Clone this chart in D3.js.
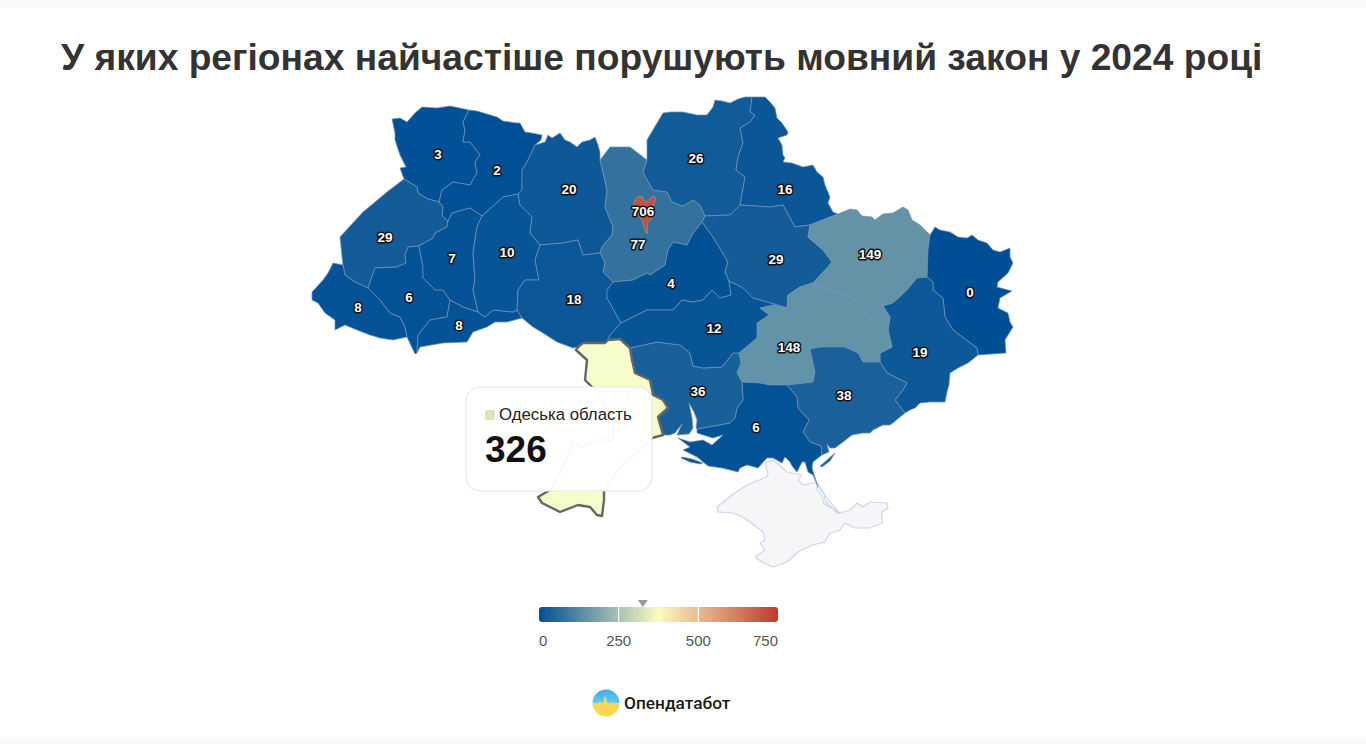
<!DOCTYPE html>
<html>
<head>
<meta charset="utf-8">
<script src="https://cdn.jsdelivr.net/npm/d3@7"></script>
<style>
  html, body { margin: 0; padding: 0; background: #f8f9fa; }
  svg { display: block; font-family: "Liberation Sans", Arial, sans-serif; }
</style>
</head>
<body>
<svg id="chart" width="1366" height="744"></svg>
<script>
const titleText = 'У яких регіонах найчастіше порушують мовний закон у 2024 році';

// region values and the spot each number sits on (map units)
const regionNames = ['Волинська', 'Рівненська', 'Львівська', 'Закарпатська', 'Івано-Франківська', 'Тернопільська', 'Чернівецька', 'Хмельницька', 'Житомирська', 'Київська', 'Вінницька', 'Черкаська', 'Чернігівська', 'Сумська', 'Полтавська', 'Харківська', 'Луганська', 'Донецька', 'Дніпропетровська', 'Запорізька', 'Херсонська', 'Миколаївська', 'Кіровоградська', 'Одеська'];
const regionValues = [3, 2, 29, 8, 6, 7, 8, 10, 20, 77, 18, 4, 26, 16, 29, 149, 0, 19, 148, 38, 6, 36, 12, 326];
const labelSpots = [[438, 155], [497, 171], [385, 238], [358, 308], [409, 298], [452, 259], [459, 326], [507, 253], [569, 190], [638, 245], [574, 300], [671, 284], [696, 159], [785, 190], [776, 260], [870, 255], [970, 293], [920, 353], [789, 348], [844, 396], [756, 428], [698, 392], [714, 329], [625, 397]];

const kyivCityValue = 706;
const kyivCitySpot = [643, 212];

// boundary pieces, shared between neighbours
const arcs = {
  volOut: [[404,179],[400,168],[406,167],[400,155],[395,140],[395,133],[392,119],[400,118],[407,122],[415,113],[422,107],[437,108],[450,106],[469,110]],
  volRv: [[469,110],[463,122],[465,130],[463,142],[470,142],[480,155],[475,162],[477,173],[470,185],[453,182],[442,190],[439,202]],
  lvVol: [[404,179],[417,187],[418,193],[428,199],[439,202]],
  rvOut: [[469,110],[477,111],[487,114],[497,117],[503,121],[517,123],[520,123],[525,132],[532,133],[542,135],[541,140],[535,145]],
  rvZh: [[535,145],[527,162],[522,170],[522,190],[518,194]],
  rvKh: [[518,194],[503,197],[492,207],[482,216]],
  rvTe: [[482,216],[470,208],[452,213],[448,221]],
  rvLv: [[439,202],[443,207],[442,216],[448,221]],
  lvTe: [[448,221],[447,227],[435,233],[433,238],[419,246]],
  lvIf: [[419,246],[408,247],[405,255],[406,263],[397,267],[375,268],[368,288]],
  lvZk: [[368,288],[355,282],[345,275],[343,265]],
  lvOut: [[404,179],[387,192],[363,212],[340,237],[342,257],[343,265]],
  zkOut: [[343,265],[333,263],[328,273],[323,280],[312,292],[312,300],[318,303],[325,313],[335,320],[335,330],[345,325],[357,330],[370,335],[380,338],[393,340],[407,337]],
  zkIf: [[368,288],[380,300],[390,313],[400,317],[405,327],[407,337]],
  ifOut: [[407,337],[415,354],[417,353]],
  ifTe: [[419,246],[423,267],[423,278],[435,290],[443,290],[450,300]],
  ifCh: [[450,300],[447,317],[430,320],[418,335],[417,353]],
  teKh: [[482,216],[477,227],[473,253],[475,280],[473,290],[478,312]],
  teCh: [[450,300],[463,307],[478,312]],
  chKh: [[478,312],[485,317],[493,310],[513,312],[517,310]],
  chVn: [[517,310],[522,318]],
  chOut: [[417,353],[420,347],[443,343],[467,342],[473,332],[487,327],[495,322],[507,322],[522,318]],
  khZh: [[518,194],[520,205],[532,217],[530,233],[540,245]],
  khVn: [[540,245],[535,260],[539,280],[525,280],[518,290],[517,310]],
  zhOut: [[535,145],[545,142],[548,135],[552,138],[560,133],[565,140],[570,142],[577,147],[582,142],[590,140],[595,137],[598,145],[600,152],[600,160]],
  zhKy: [[600,160],[602,168],[607,190],[605,207],[613,227],[612,235],[602,247],[600,253]],
  vnZh: [[540,245],[563,243],[578,240],[583,255],[600,253]],
  vnKy: [[600,253],[605,263],[603,272],[613,282]],
  vnCk: [[613,282],[607,290],[607,298],[621,323]],
  vnKr: [[621,323],[610,335],[608,340]],
  vnOd: [[578,347],[583,343],[605,343],[608,340]],
  vnOut: [[522,318],[533,327],[543,333],[557,342],[573,348],[578,347]],
  kyOut: [[600,160],[610,147],[630,147],[647,160]],
  kyCh: [[647,160],[643,172],[650,185],[653,190],[667,192],[672,202],[683,206],[693,200],[700,205],[705,216]],
  kyPl: [[705,216],[702,222]],
  kyCk: [[702,222],[692,235],[687,245],[673,242],[668,250],[665,265],[650,275],[647,273],[633,280],[613,282]],
  ckPl: [[702,222],[713,237],[728,262],[725,272],[729,281]],
  ckKr: [[729,281],[731,295],[720,298],[712,290],[703,300],[693,302],[682,300],[673,310],[660,310],[647,310],[621,323]],
  chnOut: [[647,160],[647,140],[660,118],[663,113],[670,112],[683,112],[697,115],[707,115],[713,107],[715,100],[722,101],[730,103],[738,99],[745,97],[752,97]],
  chnSu: [[752,97],[750,112],[755,115],[750,122],[740,128],[743,143],[738,157],[736,170],[745,177],[740,205]],
  chnPl: [[740,205],[730,215],[705,216]],
  suOut: [[752,97],[765,97],[770,102],[775,108],[777,118],[782,123],[788,132],[787,135],[778,138],[782,145],[783,155],[785,158],[783,162],[792,163],[803,167],[813,165],[817,172],[823,177],[825,185],[830,197],[828,203],[833,212],[838,214]],
  suKh: [[838,214],[810,225]],
  suPl: [[810,225],[795,227],[783,205],[770,207],[740,205]],
  plKh: [[810,225],[808,237],[823,250],[832,262],[827,268],[813,283]],
  krPl: [[729,281],[743,288],[753,298],[767,302],[787,308]],
  dpPl: [[787,308],[788,295],[800,287],[813,283]],
  khOut: [[838,214],[850,209],[857,210],[862,216],[872,217],[875,220],[883,214],[893,213],[903,207],[908,210],[912,220],[920,225],[930,235]],
  khLu: [[930,235],[928,250],[927,277]],
  khDn: [[927,277],[917,278],[907,290],[893,303],[883,306]],
  dpKh: [[813,283],[837,293],[852,297],[862,308],[868,320],[883,314],[883,306]],
  luOut: [[930,235],[935,227],[940,230],[950,232],[958,237],[967,238],[972,235],[978,240],[987,243],[993,250],[1000,252],[1010,248],[1010,257],[1013,263],[1008,273],[998,282],[997,287],[1012,291],[1000,298],[998,308],[1008,313],[1010,322],[1013,327],[1005,340],[1006,353],[978,355]],
  luDn: [[927,277],[933,282],[933,290],[943,298],[945,317],[953,330],[977,348],[978,355]],
  dnCoast: [[978,355],[968,363],[958,368],[950,373],[949,385],[947,392],[945,402],[930,402],[920,403],[915,408],[910,410],[905,413]],
  dnZp: [[880,362],[887,373],[907,383],[903,390],[895,400],[905,413]],
  dpDn: [[883,306],[890,317],[888,330],[892,347],[880,353],[880,362]],
  dpZp: [[787,385],[813,382],[815,372],[810,349],[820,347],[845,347],[858,353],[863,362],[880,362]],
  dpKhs: [[742,382],[760,383],[770,385],[787,385]],
  krDp: [[787,308],[773,305],[760,308],[769,315],[757,323],[757,338],[739,353]],
  mkDp: [[739,353],[741,363],[737,373],[742,382]],
  mkKhs: [[697,429],[730,423],[735,418],[737,408],[743,400],[742,382]],
  zpKhs: [[787,385],[797,397],[798,408],[809,420],[803,432],[810,442],[821,446],[822,455]],
  zpCoast: [[905,413],[900,417],[893,423],[890,425],[883,425],[873,430],[870,433],[863,433],[852,435],[843,442],[835,448],[830,448],[827,444],[829,452],[822,455]],
  khsCoast: [[822,455],[813,462],[812,468],[818,487],[813,475],[808,472],[805,462],[802,462],[797,472],[792,466],[790,462],[785,457],[782,463],[773,458],[767,458],[758,468],[747,465],[740,468],[738,472],[722,468],[708,466],[697,457],[683,450],[690,447],[678,438],[690,442],[703,440],[712,445],[723,435],[713,438],[703,435],[697,433],[697,429]],
  mkCoast: [[663,435],[670,435],[675,433],[682,424],[677,435],[689,434],[693,428],[692,418],[689,403],[694,412],[697,420],[696,428],[697,429]],
  krMk: [[630,348],[657,342],[680,345],[690,353],[693,366],[703,368],[722,367],[733,353],[739,353]],
  odKr: [[608,340],[620,339],[630,348]],
  odMk: [[630,348],[632,360],[635,373],[650,380],[653,395],[663,400],[668,408],[658,417],[663,435]],
  odCoast: [[663,435],[652,438],[640,450],[625,462],[612,478],[604,492],[604,500],[602,516],[597,515],[590,507],[578,505],[560,512],[542,503],[538,497],[550,490],[553,487],[565,463],[573,442],[583,447],[597,440],[613,440],[613,423],[602,400],[593,388],[585,380],[587,360],[576,350],[578,347]]
};

// which pieces make each region's ring, '-' means walk it backwards
const regionRings = [
  'volOut volRv -lvVol',
  'rvOut rvZh rvKh rvTe -rvLv -volRv',
  'lvVol rvLv lvTe lvIf lvZk -lvOut',
  '-lvZk zkIf -zkOut',
  '-lvIf ifTe ifCh -ifOut -zkIf',
  '-rvTe teKh -teCh -ifTe -lvTe',
  'teCh chKh chVn -chOut -ifCh',
  '-rvKh khZh khVn -chKh -teKh',
  'zhOut zhKy -vnZh -khZh -rvZh',
  'kyOut kyCh kyPl kyCk -vnKy -zhKy',
  'vnZh vnKy vnCk vnKr -vnOd -vnOut -chVn -khVn',
  '-kyCk ckPl ckKr -vnCk',
  'chnOut chnSu chnPl -kyCh',
  'suOut suKh suPl -chnSu',
  '-chnPl -suPl plKh -dpPl -krPl -ckPl -kyPl',
  '-suKh khOut khLu khDn -dpKh -plKh',
  'luOut -luDn -khLu',
  'luDn dnCoast -dnZp -dpDn -khDn',
  'krDp mkDp dpKhs dpZp -dpDn -dpKh -dpPl',
  'zpKhs -zpCoast -dnZp -dpZp',
  'mkKhs dpKhs zpKhs khsCoast',
  'krMk mkDp -mkKhs -mkCoast -odMk',
  '-ckKr krPl krDp -krMk -odKr -vnKr',
  'vnOd odKr odMk odCoast'
];

// bits of land that are not attached to their region's ring
const extraRings = {
  'Херсонська': [[[682,457],[692,459],[703,463],[700,464],[690,462],[681,458]]],
  'Запорізька': [[[820,466],[827,460],[835,453],[830,461],[822,467]]]
};

const kyivCityRing = [[637,197],[642,196],[645,203],[653,196],[656,198],[652,208],[655,213],[652,219],[647,223],[648,233],[646,233],[642,220],[637,213],[633,205]];

const crimeaRings = [
  [[765,463],[768,473],[767,477],[747,485],[732,495],[717,507],[718,512],[733,513],[743,517],[750,522],[763,532],[765,540],[760,543],[765,550],[755,557],[762,562],[773,567],[787,562],[798,552],[813,545],[825,542],[830,533],[840,530],[845,523],[855,528],[870,528],[882,523],[882,512],[888,508],[887,503],[870,502],[863,507],[857,503],[850,510],[840,513],[830,507],[823,503],[825,495],[818,483],[813,483],[803,485],[798,480],[802,475],[787,472],[783,468],[773,460]],
  [[818,487],[830,502],[840,513],[837,513],[826,502],[816,488]]
];

// colour scale and legend
const colorDomain = [0, 375, 750];
const colorRange = ['#004f95', '#fcfbc2', '#bf3a2e'];
const legendTicks = [0, 250, 500, 750];
const tooltipRegion = 'Одеська';
const tooltipTitle = 'Одеська область';
const brandName = 'Опендатабот';

const svg = d3.select('#chart');
svg.append('rect').attr('x', 0).attr('y', 8).attr('width', 1366).attr('height', 729).attr('fill', '#fff');

svg.append('text').attr('x', 61).attr('y', 70)
  .attr('font-size', 37.2).attr('font-weight', 700).attr('fill', '#333')
  .text(titleText);

const color = d3.scaleLinear().domain(colorDomain).range(colorRange).interpolate(d3.interpolateRgb);
const path = d3.geoPath(d3.geoIdentity());

const ringFromArcs = spec => {
  const ring = [];
  spec.split(' ').forEach(key => {
    const pts = key[0] === '-' ? arcs[key.slice(1)].slice().reverse() : arcs[key];
    ring.push(...(ring.length ? pts.slice(1) : pts));
  });
  return ring;
};

const features = regionNames.map((name, i) => ({
  type: 'Feature',
  properties: { name, value: regionValues[i], spot: labelSpots[i] },
  geometry: {
    type: 'MultiPolygon',
    coordinates: [[ringFromArcs(regionRings[i])]].concat((extraRings[name] || []).map(r => [r.concat([r[0]])]))
  }
}));

const g = svg.append('g');

// Crimea has no data
g.append('path')
  .datum({ type: 'MultiPolygon', coordinates: crimeaRings.map(r => [r.concat([r[0]])]) })
  .attr('d', path).attr('fill', '#f6f6f8').attr('stroke', '#c8d5ec').attr('stroke-width', 1.1).attr('stroke-linejoin', 'round');

g.selectAll('path.region')
  .data(features.filter(d => d.properties.name !== tooltipRegion))
  .join('path')
  .attr('class', 'region')
  .attr('d', path)
  .attr('fill', d => color(d.properties.value))
  .attr('stroke', '#6f93b8')
  .attr('stroke-opacity', 0.8)
  .attr('stroke-width', 0.9)
  .attr('stroke-linejoin', 'round');

// Kyiv city sits on top of the oblast
g.append('path')
  .datum({ type: 'Polygon', coordinates: [kyivCityRing.concat([kyivCityRing[0]])] })
  .attr('d', path).attr('fill', color(kyivCityValue)).attr('stroke', '#8aa3bb').attr('stroke-width', 0.6);

// hovered region: lighter fill and a dark outline
const hovered = features.find(d => d.properties.name === tooltipRegion);
g.append('path').datum(hovered)
  .attr('d', path).attr('fill', '#f6fdcb').attr('stroke', '#666').attr('stroke-width', 2.4).attr('stroke-linejoin', 'round');

const labels = features.map(d => ({ value: d.properties.value, spot: d.properties.spot }))
  .concat([{ value: kyivCityValue, spot: kyivCitySpot }]);

g.selectAll('text.map-label')
  .data(labels.filter(d => d.value !== hovered.properties.value))
  .join('text')
  .attr('class', 'map-label')
  .attr('x', d => d.spot[0]).attr('y', d => d.spot[1])
  .attr('dy', '0.33em').attr('text-anchor', 'middle')
  .attr('font-size', 13.5).attr('font-weight', 700)
  .attr('fill', '#fff').attr('stroke', '#111').attr('stroke-width', 3)
  .attr('stroke-linejoin', 'round').attr('paint-order', 'stroke')
  .text(d => d.value);

// the hovered region's label is washed out behind the tooltip
g.append('text').attr('x', hovered.properties.spot[0]).attr('y', hovered.properties.spot[1])
  .attr('dy', '0.33em').attr('text-anchor', 'middle')
  .attr('font-size', 13.5).attr('font-weight', 700).attr('fill', '#fff').attr('stroke', '#999').attr('stroke-width', 3)
  .attr('stroke-linejoin', 'round').attr('paint-order', 'stroke')
  .text(hovered.properties.value);

// tooltip
const tip = svg.append('g').attr('transform', 'translate(466,387)');
tip.append('rect').attr('x', 0).attr('y', 0).attr('width', 186).attr('height', 104).attr('rx', 14)
  .attr('fill', '#fff').attr('fill-opacity', 0.96).attr('stroke', '#e8e8e8').attr('stroke-width', 1.2);
tip.append('rect').attr('x', 19).attr('y', 23).attr('width', 10).attr('height', 10).attr('rx', 2)
  .attr('fill', color(hovered.properties.value));
tip.append('text').attr('x', 33).attr('y', 32.5).attr('font-size', 16.8).attr('fill', '#222').text(tooltipTitle);
tip.append('text').attr('x', 19).attr('y', 75).attr('font-size', 37).attr('font-weight', 700).attr('fill', '#111')
  .text(hovered.properties.value);

// legend
const legendX = d3.scaleLinear().domain([colorDomain[0], colorDomain[2]]).range([539, 778]);
const defs = svg.append('defs');
const grad = defs.append('linearGradient').attr('id', 'legend-grad');
colorDomain.forEach((v, i) => {
  grad.append('stop').attr('offset', `${(v / colorDomain[2]) * 100}%`).attr('stop-color', colorRange[i]);
});
const legend = svg.append('g');
legend.append('rect').attr('x', legendX(0)).attr('y', 607).attr('width', legendX(750) - legendX(0)).attr('height', 15)
  .attr('rx', 3).attr('fill', 'url(#legend-grad)');
legend.selectAll('line').data(legendTicks.slice(1, -1)).join('line')
  .attr('x1', d => legendX(d)).attr('x2', d => legendX(d)).attr('y1', 607).attr('y2', 622)
  .attr('stroke', '#fff').attr('stroke-width', 1.2);
legend.selectAll('text').data(legendTicks).join('text')
  .attr('x', d => legendX(d)).attr('y', 646)
  .attr('text-anchor', (d, i) => i === 0 ? 'start' : i === legendTicks.length - 1 ? 'end' : 'middle')
  .attr('font-size', 15).attr('fill', '#555')
  .text(d => d);
const markerX = legendX(hovered.properties.value);
legend.append('path').attr('d', d3.line()([[markerX - 5, 600], [markerX + 5, 600], [markerX, 607]]) + 'Z').attr('fill', '#999');

// brand mark
const logoGrad = defs.append('linearGradient').attr('id', 'logo-grad').attr('x1', 0).attr('x2', 0).attr('y1', 0).attr('y2', 1);
logoGrad.append('stop').attr('offset', '0%').attr('stop-color', '#3fa9ee');
logoGrad.append('stop').attr('offset', '50%').attr('stop-color', '#62cdf6');
logoGrad.append('stop').attr('offset', '50%').attr('stop-color', '#fbd652');
const logo = svg.append('g').attr('transform', 'translate(606,703)');
logo.append('circle').attr('r', 13.5).attr('fill', 'url(#logo-grad)');
logo.append('path')
  .attr('d', d3.line()([[-13, 1], [-6, -1], [-3, 0], [-1, -8], [1, -1], [3, 3], [6, -1], [13, 1], [13, 4], [-13, 4]]) + 'Z')
  .attr('fill', '#fbd652');
svg.append('text').attr('x', 624).attr('y', 709).attr('font-family', 'Roboto, sans-serif')
  .attr('font-size', 17.3).attr('font-weight', 500).attr('fill', '#1a1a1a').text(brandName);
</script>
</body>
</html>
